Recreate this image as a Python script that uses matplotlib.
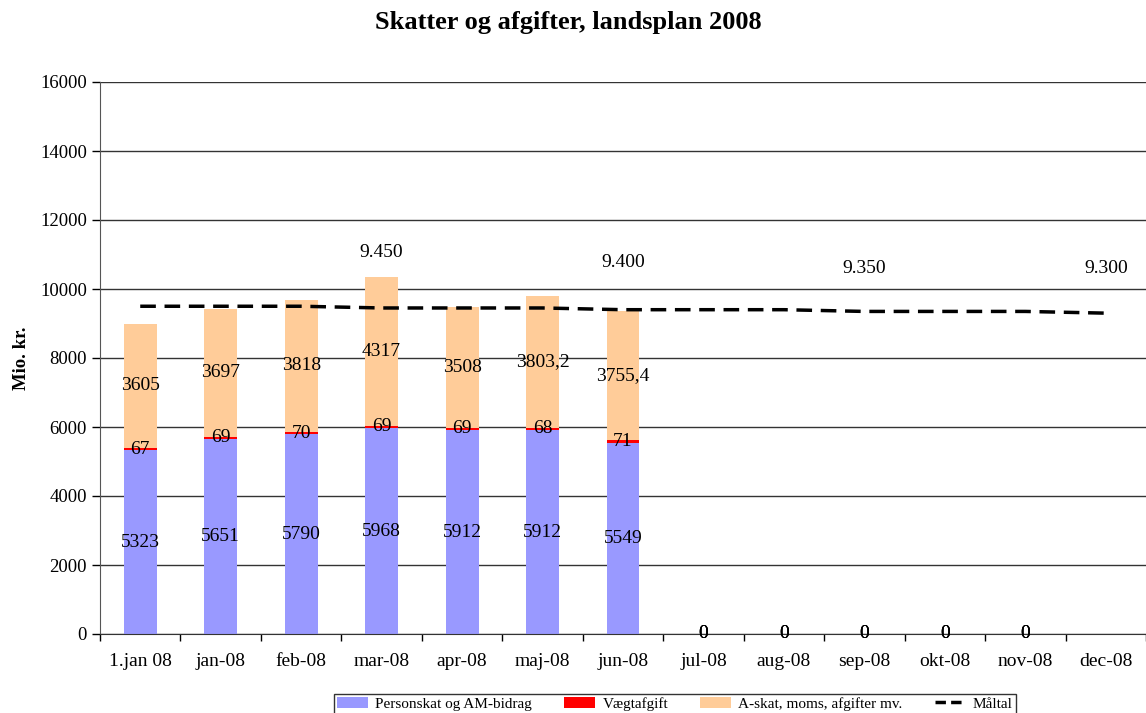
import matplotlib.pyplot as plt
from matplotlib.patches import Patch
from matplotlib.lines import Line2D
import numpy as np

plt.rcParams['font.family'] = ['Liberation Serif', 'DejaVu Serif']

categories = ['1.jan 08', 'jan-08', 'feb-08', 'mar-08', 'apr-08', 'maj-08', 'jun-08',
              'jul-08', 'aug-08', 'sep-08', 'okt-08', 'nov-08', 'dec-08']
personskat = [5323, 5651, 5790, 5968, 5912, 5912, 5549, 0, 0, 0, 0, 0, None]
vaegtafgift = [67, 69, 70, 69, 69, 68, 71, 0, 0, 0, 0, 0, None]
askat = [3605, 3697, 3818, 4317, 3508, 3803.2, 3755.4, 0, 0, 0, 0, 0, None]
askat_labels = ['3605', '3697', '3818', '4317', '3508', '3803,2', '3755,4', '0', '0', '0', '0', '0', '']
maaltal = [9500, 9500, 9500, 9450, 9450, 9450, 9400, 9400, 9400, 9350, 9350, 9350, 9300]
maaltal_labels = {3: '9.450', 6: '9.400', 9: '9.350', 12: '9.300'}
label_offsets = {3: 40, 6: 34, 9: 31, 12: 32}  # points above the line

blue = '#9999FF'
red = '#FF0000'
peach = '#FFCC99'

fig = plt.figure(figsize=(11.46, 7.13), dpi=100)
ax = fig.add_axes([100 / 1146, 1 - 634 / 713, 1046 / 1146, (634 - 82) / 713])

x = np.arange(len(categories))
p = np.array([np.nan if v is None else v for v in personskat], dtype=float)
v = np.array([np.nan if v_ is None else v_ for v_ in vaegtafgift], dtype=float)
a = np.array([np.nan if v_ is None else v_ for v_ in askat], dtype=float)

w = 0.41
ax.bar(x, p, w, color=blue, zorder=2)
ax.bar(x, v, w, bottom=p, color=red, zorder=2)
ax.bar(x, a, w, bottom=p + v, color=peach, zorder=2)
ax.plot(x, maaltal, color='black', lw=2.5, dashes=(4.5, 2.5), zorder=3)

fs = 14
for i in range(len(categories)):
    if np.isnan(p[i]):
        continue
    ax.text(x[i], p[i] / 2, f'{personskat[i]}', ha='center', va='center', fontsize=fs, zorder=4)
    ax.text(x[i], p[i] + v[i] / 2, f'{vaegtafgift[i]}', ha='center', va='center', fontsize=fs, zorder=4)
    ax.text(x[i], p[i] + v[i] + a[i] / 2, askat_labels[i], ha='center', va='center', fontsize=fs, zorder=4)

for i, lab in maaltal_labels.items():
    ax.annotate(lab, (x[i], maaltal[i]), xytext=(0, label_offsets[i]),
                textcoords='offset points', ha='center', va='center', fontsize=fs)

ax.set_xlim(-0.5, len(categories) - 0.5)
ax.set_ylim(0, 16000)
ax.set_yticks(range(0, 16001, 2000))
ax.set_xticks(x)
ax.set_xticklabels(categories, fontsize=fs)
ax.set_xticks(np.arange(-0.5, len(categories), 1), minor=True)
ax.tick_params(axis='x', which='major', length=0, pad=14)
ax.tick_params(axis='x', which='minor', length=5, width=1, direction='out')
ax.tick_params(axis='y', labelsize=13.5, length=6, width=1, direction='out')
ax.yaxis.grid(True, color='#333333', lw=1, zorder=0)
ax.set_axisbelow(True)
for s in ['top', 'right']:
    ax.spines[s].set_visible(False)
ax.spines['left'].set_color('#555555')
ax.spines['bottom'].set_color('#333333')

ax.set_ylabel('Mio. kr.', fontsize=13.5, fontweight='bold', labelpad=7)
fig.text(568 / 1146, 1 - 23 / 713, 'Skatter og afgifter, landsplan 2008', ha='center', va='center',
         fontsize=19, fontweight='bold')

handles = [Patch(facecolor=blue), Patch(facecolor=red), Patch(facecolor=peach),
           Line2D([0], [0], color='black', lw=2.5, dashes=(3, 1.5))]
labels = ['Personskat og AM-bidrag', 'Vægtafgift', 'A-skat, moms, afgifter mv.', 'Måltal']
leg = fig.legend(handles, labels, loc='upper center', bbox_to_anchor=(675 / 1146, 1 - 694 / 713),
                 ncol=4, fontsize=11, frameon=True, fancybox=False, edgecolor='black',
                 handlelength=2, handleheight=0.7, handletextpad=0.5, columnspacing=2.1,
                 borderpad=0.2, borderaxespad=0)
leg.get_frame().set_linewidth(1)

fig.savefig('out.png', dpi=100)
